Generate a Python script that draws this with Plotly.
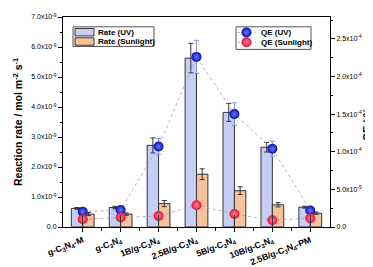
import plotly.graph_objects as go

categories = ["g-C<sub>3</sub>N<sub>4</sub>-M", "g-C<sub>3</sub>N<sub>4</sub>", "1B/g-C<sub>3</sub>N<sub>4</sub>",
              "2.5B/g-C<sub>3</sub>N<sub>4</sub>", "5B/g-C<sub>3</sub>N<sub>4</sub>", "10B/g-C<sub>3</sub>N<sub>4</sub>",
              "2.5B/g-C<sub>3</sub>N<sub>4</sub>-PM"]
rate_uv = [0.62e-9, 0.65e-9, 2.72e-9, 5.63e-9, 3.82e-9, 2.66e-9, 0.66e-9]
rate_uv_err = [0.03e-9, 0.04e-9, 0.25e-9, 0.49e-9, 0.30e-9, 0.16e-9, 0.03e-9]
rate_sun = [0.43e-9, 0.43e-9, 0.78e-9, 1.76e-9, 1.21e-9, 0.74e-9, 0.46e-9]
rate_sun_err = [0.05e-9, 0.04e-9, 0.10e-9, 0.18e-9, 0.13e-9, 0.07e-9, 0.04e-9]
qe_uv = [0.204e-4, 0.225e-4, 1.07e-4, 2.26e-4, 1.50e-4, 1.04e-4, 0.22e-4]
qe_uv_err = [0.0, 0.0, 0.105e-4, 0.22e-4, 0.15e-4, 0.10e-4, 0.0]
qe_sun = [0.104e-4, 0.126e-4, 0.147e-4, 0.29e-4, 0.173e-4, 0.09e-4, 0.117e-4]

series_names = ["Rate (UV)", "Rate (Sunlight)", "QE (UV)", "QE (Sunlight)"]

left_ticks = [i * 1e-9 for i in range(8)]
left_text = ["0.0"] + [f"{i}.0x10<sup>-9</sup>" for i in range(1, 8)]
right_ticks = [0, 5e-5, 1e-4, 1.5e-4, 2e-4, 2.5e-4]
right_text = ["0.0", "5.0x10<sup>-5</sup>", "1.0x10<sup>-4</sup>", "1.5x10<sup>-4</sup>",
              "2.0x10<sup>-4</sup>", "2.5x10<sup>-4</sup>"]

C_UV_BAR = "#C6CEF8"
C_SUN_BAR = "#F8C39C"
C_UV_PT = "#0610A8"
C_SUN_PT = "#E80C36"
G_UV_PT = "#6A7CFF"
G_SUN_PT = "#FF8A9C"
LINE_C = "#A0A0A0"

xs = list(range(len(categories)))
FONT = "Liberation Sans, Arial, sans-serif"

fig = go.Figure()
fig.add_trace(go.Bar(x=xs, y=rate_uv, name=series_names[0], showlegend=False,
                     marker=dict(color=C_UV_BAR, line=dict(color="#333333", width=1)),
                     error_y=dict(type="data", array=rate_uv_err, color="#333333", thickness=1, width=2.5)))
fig.add_trace(go.Bar(x=xs, y=rate_sun, name=series_names[1], showlegend=False,
                     marker=dict(color=C_SUN_BAR, line=dict(color="#333333", width=1)),
                     error_y=dict(type="data", array=rate_sun_err, color="#333333", thickness=1, width=2.5)))
fig.add_trace(go.Scatter(x=xs, y=qe_uv, name=series_names[2], showlegend=False, yaxis="y2",
                         mode="lines+markers",
                         line=dict(color=LINE_C, width=0.8, dash="dot"),
                         marker=dict(size=10, color=C_UV_PT, line=dict(width=0),
                                     gradient=dict(type="radial", color=G_UV_PT)),
                         error_y=dict(type="data", array=qe_uv_err, color="#8A90F0", thickness=1, width=2.5)))
fig.add_trace(go.Scatter(x=xs, y=qe_sun, name=series_names[3], showlegend=False, yaxis="y2",
                         mode="lines+markers",
                         line=dict(color=LINE_C, width=0.8, dash="dot"),
                         marker=dict(size=10, color=C_SUN_PT, line=dict(width=0),
                                     gradient=dict(type="radial", color=G_SUN_PT))))
# crossing (inside) ticks on x
fig.add_trace(go.Scatter(x=[0], y=[0], xaxis="x2", mode="markers", marker=dict(opacity=0),
                         showlegend=False, hoverinfo="skip"))

# ---- custom legends drawn on a pixel-mapped overlay axis (x3/y3) ----
shapes = []
annotations = []
# legend 1 (bars)
shapes.append(dict(type="rect", xref="x3", yref="y3", x0=65, x1=146, y0=15, y1=35,
                   line=dict(color="#555", width=1), fillcolor="white", layer="below"))
for (yc, col, name) in [(20.5, C_UV_BAR, series_names[0]), (30, C_SUN_BAR, series_names[1])]:
    shapes.append(dict(type="rect", xref="x3", yref="y3", x0=67, x1=86, y0=yc - 3.8, y1=yc + 3.8,
                       line=dict(color="#333", width=1), fillcolor=col, layer="above"))
    annotations.append(dict(xref="x3", yref="y3", x=88, y=yc, text=f"<b>{name}</b>", showarrow=False,
                            xanchor="left", yanchor="middle", font=dict(size=8)))
# legend 2 (QE)
shapes.append(dict(type="rect", xref="x3", yref="y3", x0=228, x1=303, y0=15, y1=38,
                   line=dict(color="#555", width=1), fillcolor="white", layer="below"))
leg_y = [20.7, 30.7]
for yc, name in zip(leg_y, series_names[2:]):
    annotations.append(dict(xref="x3", yref="y3", x=250.5, y=yc, text=f"<b>{name}</b>", showarrow=False,
                            xanchor="left", yanchor="middle", font=dict(size=8)))
for yc, col, g in zip(leg_y, [C_UV_PT, C_SUN_PT], [G_UV_PT, G_SUN_PT]):
    fig.add_trace(go.Scatter(x=[229, 248], y=[yc, yc], xaxis="x3", yaxis="y3", mode="lines",
                             line=dict(color=LINE_C, width=0.8, dash="dot"), showlegend=False, hoverinfo="skip"))
    fig.add_trace(go.Scatter(x=[238.5], y=[yc], xaxis="x3", yaxis="y3", mode="markers",
                             marker=dict(size=10, color=col, line=dict(width=0),
                                         gradient=dict(type="radial", color=g)),
                             showlegend=False, hoverinfo="skip"))

# right axis title as annotation (keeps it inside the page)
annotations.append(dict(xref="paper", yref="paper", x=(367 - 55) / 267, y=0.49, text="<b>QE / %</b>",
                        textangle=-90, showarrow=False, xanchor="right", yanchor="middle",
                        font=dict(size=10.5)))

fig.update_layout(
    width=373, height=267,
    margin=dict(l=55, r=51, t=5, b=48),
    paper_bgcolor="white", plot_bgcolor="white",
    font=dict(family=FONT, color="#000000"),
    showlegend=False,
    barmode="group", bargap=0.4, bargroupgap=0,
    shapes=shapes, annotations=annotations,
    xaxis=dict(range=[-0.52, 6.52], tickvals=xs, ticktext=[f"<b>{c}</b>" for c in categories],
               tickangle=-21, tickfont=dict(size=8.7), ticks="outside", ticklen=4, tickcolor="#000",
               showline=True, linecolor="#000", linewidth=1, mirror=True, showgrid=False, zeroline=False,
               minor=dict(tickvals=[x + 0.5 for x in xs[:-1]], ticks="outside", ticklen=3, tickcolor="#000")),
    xaxis2=dict(overlaying="x", matches="x", range=[-0.52, 6.52], tickvals=xs, showticklabels=False,
                ticks="inside", ticklen=12, tickcolor="#333", showline=False, showgrid=False, zeroline=False),
    xaxis3=dict(overlaying="x", range=[55, 322], visible=False, fixedrange=True),
    yaxis3=dict(overlaying="y", range=[219, 5], visible=False, fixedrange=True),
    yaxis=dict(range=[0, 7.0e-9], tickvals=left_ticks, ticktext=left_text, tickfont=dict(size=7),
               ticks="outside", ticklen=4, tickcolor="#000",
               minor=dict(tickvals=[(i + 0.5) * 1e-9 for i in range(7)], ticks="outside", ticklen=2, tickcolor="#000"),
               showline=True, linecolor="#000", linewidth=1, showgrid=False, zeroline=False,
               title=dict(text="<b>Reaction rate / mol m<sup>-2</sup> s<sup>-1</sup></b>", font=dict(size=10.5), standoff=6)),
    yaxis2=dict(overlaying="y", side="right", range=[0, 2.79e-4], tickvals=right_ticks, ticktext=right_text,
                tickfont=dict(size=7), ticks="outside", ticklen=4, tickcolor="#000",
                minor=dict(tickvals=[2.5e-5, 7.5e-5, 1.25e-4, 1.75e-4, 2.25e-4, 2.75e-4], ticks="outside", ticklen=2, tickcolor="#000"),
                showline=True, linecolor="#000", linewidth=1, showgrid=False, zeroline=False),
)

fig.write_html("out.html")
